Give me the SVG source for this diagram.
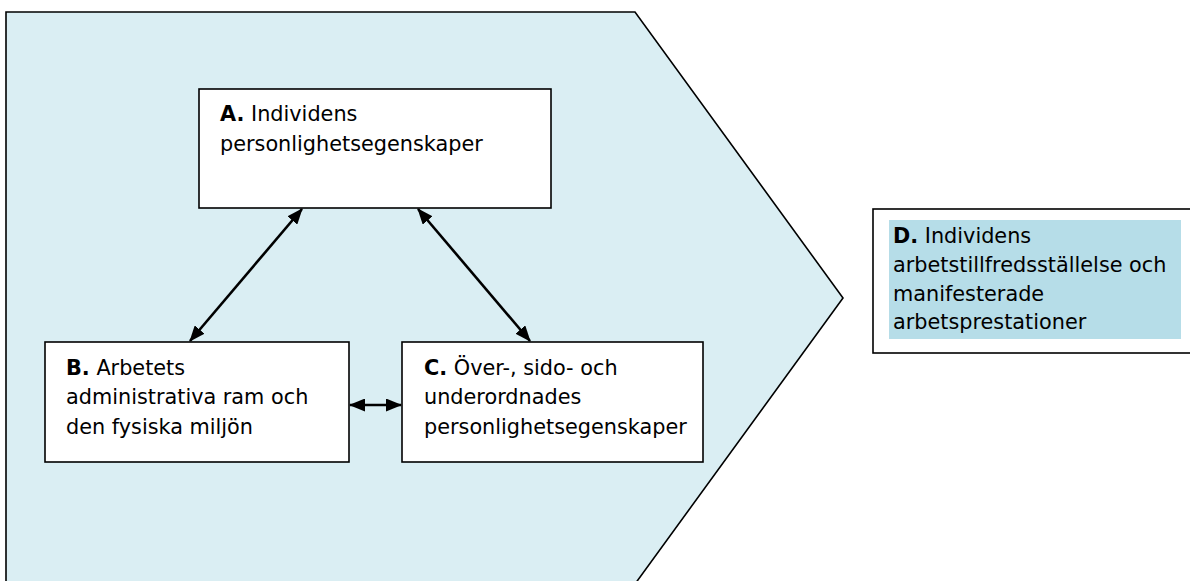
<svg xmlns="http://www.w3.org/2000/svg" width="1190" height="581" viewBox="0 0 1190 581">
<defs>
<style>
.t{font-family:"DejaVu Sans","Liberation Sans",sans-serif;font-size:20.8px;fill:#000}
.b{font-weight:bold}
.box{fill:#fff;stroke:#000;stroke-width:1.6}
.con{stroke:#000;stroke-width:2.6;fill:none;marker-start:url(#ah);marker-end:url(#ah)}
</style>
<marker id="ah" viewBox="0 0 16 13" refX="15" refY="6.5" markerWidth="16" markerHeight="13" markerUnits="userSpaceOnUse" orient="auto-start-reverse">
<path d="M0,0 L16,6.5 L0,13 z" fill="#000"/>
</marker>
</defs>
<rect x="0" y="0" width="1190" height="581" fill="#fff"/>
<g id="background">
<polygon points="6,12 635,12 843,298 635,584 6,584" fill="#DAEEF3" stroke="#000" stroke-width="1.6"/>
</g>
<g id="nodeA">
<rect class="box" x="199" y="89" width="352" height="119"/>
<text class="t" x="220" y="121"><tspan class="b">A.</tspan> Individens</text>
<text class="t" x="220" y="151">personlighetsegenskaper</text>
</g>
<g id="nodeB">
<rect class="box" x="45" y="342" width="304" height="120"/>
<text class="t" x="66" y="375"><tspan class="b">B.</tspan> Arbetets</text>
<text class="t" x="66" y="404">administrativa ram och</text>
<text class="t" x="66" y="434">den fysiska miljön</text>
</g>
<g id="nodeC">
<rect class="box" x="402" y="342" width="301" height="120"/>
<text class="t" x="424" y="375"><tspan class="b">C.</tspan> Över-, sido- och</text>
<text class="t" x="424" y="404">underordnades</text>
<text class="t" x="424" y="434">personlighetsegenskaper</text>
</g>
<g id="nodeD">
<rect x="873" y="209" width="330" height="144" fill="#fff" stroke="#000" stroke-width="1.6"/>
<rect x="889" y="220" width="292" height="119" fill="#B6DDE8"/>
<text class="t" x="893" y="243"><tspan class="b">D.</tspan> Individens</text>
<text class="t" x="893" y="272">arbetstillfredsställelse och</text>
<text class="t" x="893" y="301">manifesterade</text>
<text class="t" x="893" y="329">arbetsprestationer</text>
</g>
<g id="connectors">
<line class="con" x1="302" y1="209" x2="190" y2="341"/>
<line class="con" x1="418" y1="209" x2="530" y2="341"/>
<line class="con" x1="350" y1="405" x2="401" y2="405"/>
</g>
</svg>
